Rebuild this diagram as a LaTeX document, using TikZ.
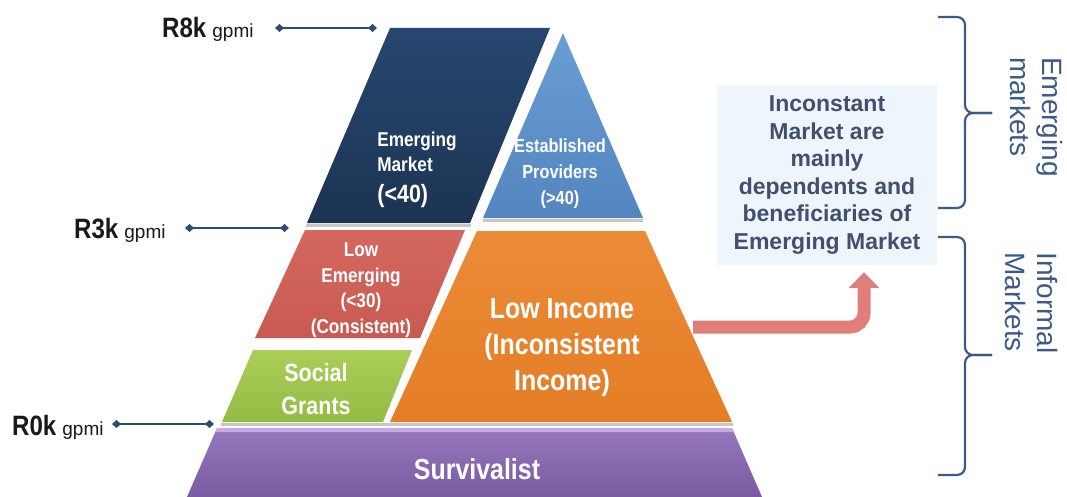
\documentclass[tikz,border=0pt]{standalone}
\usepackage{fontspec}
\setmainfont{Liberation Sans}
\newfontfamily\condsf[FakeStretch=0.86]{Liberation Sans}
\usetikzlibrary{arrows.meta}

\definecolor{navyB}{HTML}{1C3453}
\definecolor{navyT}{HTML}{274770}
\definecolor{skyB}{HTML}{5386C0}
\definecolor{skyT}{HTML}{6A9DD2}
\definecolor{redB}{HTML}{C85A52}
\definecolor{redT}{HTML}{D4685F}
\definecolor{orgB}{HTML}{E47D26}
\definecolor{orgT}{HTML}{EC8B36}
\definecolor{grnB}{HTML}{93BC44}
\definecolor{grnT}{HTML}{ABCE58}
\definecolor{purB}{HTML}{7A5AA0}
\definecolor{purT}{HTML}{9678BE}
\definecolor{purHi}{HTML}{C9A8E8}
\definecolor{lvlblue}{HTML}{2E4D70}
\definecolor{infofill}{HTML}{EEF6FB}
\definecolor{infotext}{HTML}{444E6E}
\definecolor{arrowred}{HTML}{E07E79}
\definecolor{bracecol}{HTML}{3D5A86}

\begin{document}
\begin{tikzpicture}[x=1pt,y=-1pt,
  blocktext/.style={text=white, align=center, inner sep=0pt},
  lvltext/.style={text=black!90, inner sep=0pt, anchor=base west},
  lvlline/.style={draw=lvlblue, line width=1.8pt,
    {Diamond[width=8pt,length=9pt]}-{Diamond[width=8pt,length=9pt]}},
  sepline/.style={draw=black!22, line width=2.5pt},
  bracepath/.style={draw=bracecol, line width=2.2pt, rounded corners=8pt},
  bracetext/.style={text=bracecol, align=left, rotate=-90, inner sep=0pt,
    font={\fontsize{28}{32}\selectfont}},
  infobox/.style={fill=infofill, text=infotext, align=center,
    minimum width=220pt, minimum height=180pt, inner sep=0pt,
    font={\bfseries\fontsize{23}{27.6}\selectfont}},
  bigarrow/.style={draw=arrowred, line width=13pt, rounded corners=14pt,
    -{Triangle[width=30pt,length=16pt]}}
]
\useasboundingbox (0,0) rectangle (1067,497);
\fill[white] (0,0) rectangle (1067,497);

% soft separators under the layers
\draw[sepline] (306,225.5) -- (471,225.5);
\draw[sepline] (483,220.5) -- (643,220.5);
\draw[sepline] (221,424.5) -- (733,424.5);

% top level: emerging market and established providers
\shade[top color=navyT, bottom color=navyB]
  (390,28) -- (550,28) -- (470,223) -- (307,223) -- cycle;
\shade[top color=skyT, bottom color=skyB]
  (563,33) -- (643,218) -- (483,218) -- cycle;

% middle level
\shade[top color=redT, bottom color=redB]
  (305,230) -- (465,230) -- (420,338) -- (255,338) -- cycle;
\shade[top color=orgT, bottom color=orgB]
  (477,231) -- (645,231) -- (732,422) -- (390,422) -- cycle;
\shade[top color=grnT, bottom color=grnB]
  (253,350) -- (412,350) -- (383,422) -- (222,422) -- cycle;

% base level
\shade[top color=purT, bottom color=purB]
  (217,428) -- (732,428) -- (762,497) -- (187,497) -- cycle;
\fill[purHi] (217,428) -- (732,428) -- (734,432) -- (215.3,432) -- cycle;

% layer captions
\node[blocktext, align=left, font={\condsf\bfseries\fontsize{20}{25}\selectfont}]
  (emerging) at (417,170) {Emerging\\Market\\[6pt]{\fontsize{25}{25}\selectfont (<40)}};
\node[blocktext, font={\condsf\bfseries\fontsize{19}{26}\selectfont}]
  (established) at (560,174) {Established\\Providers\\(>40)};
\node[blocktext, font={\condsf\bfseries\fontsize{20}{25.5}\selectfont}]
  (lowemerging) at (361,290) {Low\\Emerging\\(<30)\\(Consistent)};
\node[blocktext, font={\condsf\bfseries\fontsize{29}{36}\selectfont}]
  (lowincome) at (562,348) {Low Income\\(Inconsistent\\Income)};
\node[blocktext, font={\condsf\bfseries\fontsize{25}{33}\selectfont}]
  (grants) at (316,389) {Social\\Grants};
\node[blocktext, font={\condsf\bfseries\fontsize{29}{30}\selectfont}]
  (survivalist) at (477,469) {Survivalist};

% income levels
\node[lvltext] (r8k) at (162,38)
  {{\condsf\bfseries\fontsize{28}{30}\selectfont R8k}\hspace{6pt}{\fontsize{19}{20}\selectfont gpmi}};
\node[lvltext] (r3k) at (74,238)
  {{\condsf\bfseries\fontsize{28}{30}\selectfont R3k}\hspace{6pt}{\fontsize{19}{20}\selectfont gpmi}};
\node[lvltext] (r0k) at (12,435)
  {{\condsf\bfseries\fontsize{28}{30}\selectfont R0k}\hspace{6pt}{\fontsize{19}{20}\selectfont gpmi}};
\coordinate (r8kA) at (275,28);  \coordinate (r8kB) at (377,28);
\coordinate (r3kA) at (185,228); \coordinate (r3kB) at (289,228);
\coordinate (r0kA) at (112,424); \coordinate (r0kB) at (214,424);
\draw[lvlline] (r8kA) -- (r8kB);
\draw[lvlline] (r3kA) -- (r3kB);
\draw[lvlline] (r0kA) -- (r0kB);

% explanatory note and arrow
\node[infobox] (info) at (827,175)
  {Inconstant\\Market are\\mainly\\dependents and\\beneficiaries of\\Emerging Market};
\coordinate (arrowFrom) at (693,327);
\draw[bigarrow] (arrowFrom) -| ([xshift=37pt,yshift=-7pt]info.south);

% market braces
\draw[bracepath] (938,17) -- (965,17) -- (965,113) -- (992,113);
\draw[bracepath] (938,208) -- (965,208) -- (965,113) -- (992,113);
\draw[bracepath] (938,237) -- (965,237) -- (965,355) -- (992,355);
\draw[bracepath] (938,475) -- (965,475) -- (965,355) -- (992,355);
\node[bracetext] (emlbl) at (1036,117) {Emerging\\markets};
\node[bracetext] (inflbl) at (1031,303) {Informal\\Markets};
\end{tikzpicture}
\end{document}
